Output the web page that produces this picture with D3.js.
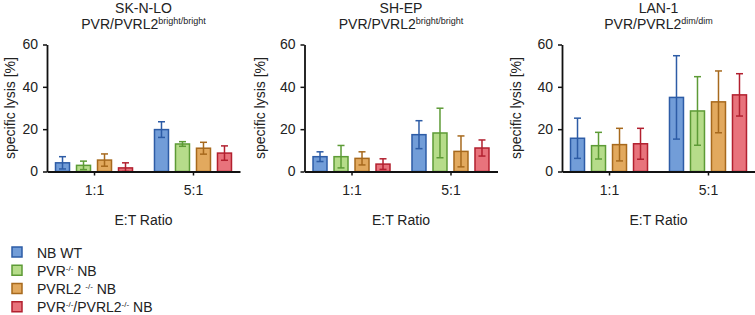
<!DOCTYPE html>
<html>
<head>
<meta charset="utf-8">
<script src="https://cdn.jsdelivr.net/npm/d3@7"></script>
<style>
  body { margin: 0; background: #fff; }
  svg text { font-family: "Liberation Sans", Arial, sans-serif; fill: #222; }
</style>
</head>
<body>
<div id="chart"></div>
<script>
// categories
const ratios = ["1:1", "5:1"];
const series = ["wt", "pvr", "pvrl2", "dko"];
const yTicks = [0, 20, 40, 60];

// panel titles
const cellLines = ["SK-N-LO", "SH-EP", "LAN-1"];
const phenotypes = ["bright/bright", "bright/bright", "dim/dim"];

// mean specific lysis [%], per ratio, per series
const meansSKNLO = [[4.1, 2.9, 5.4, 1.7], [19.8, 13.0, 11.0, 8.7]];
const meansSHEP  = [[7.0, 7.0, 6.2, 3.5], [17.4, 18.2, 9.5, 11.1]];
const meansLAN1  = [[15.7, 12.2, 12.7, 13.1], [35.0, 28.6, 32.9, 36.2]];

// SD
const sdSKNLO = [[2.9, 2.0, 2.9, 2.4], [3.7, 1.1, 2.8, 3.4]];
const sdSHEP  = [[2.3, 5.3, 3.1, 2.5], [6.6, 11.7, 7.3, 3.8]];
const sdLAN1  = [[9.5, 6.3, 7.7, 7.3], [19.7, 16.2, 14.6, 10.0]];

const allMeans = [meansSKNLO, meansSHEP, meansLAN1];
const allSd = [sdSKNLO, sdSHEP, sdLAN1];

const fills   = ["#729dd8", "#b6dc8a", "#e2a95e", "#e8737c"];
const strokes = ["#2d5ca6", "#5d9b36", "#a7691d", "#b2202f"];

const width = 755, height = 315;
const svg = d3.select("#chart").append("svg")
    .attr("width", width)
    .attr("height", height);

const axisLen = 193;
const panelLeft = i => 47 + i * 257.5;
const yLabelGap = [37, 45, 46];

const y = d3.scaleLinear().domain([0, 60]).range([171.5, 44.5]);
const x = d3.scalePoint().domain(ratios).range([0, axisLen]).padding(0.475);
const xs = d3.scaleBand().domain(series).range([-38.5, 38.5]).paddingInner(1 / 3);
const capW = 7;

cellLines.forEach((name, i) => {
    const g = svg.append("g").attr("transform", `translate(${panelLeft(i)},0)`);
    const means = allMeans[i], sds = allSd[i];

    // title
    g.append("text")
        .attr("x", axisLen / 2).attr("y", 13)
        .attr("text-anchor", "middle")
        .style("font-size", "14px")
        .text(name);
    const t2 = g.append("text")
        .attr("x", axisLen / 2).attr("y", 29)
        .attr("text-anchor", "middle")
        .style("font-size", "14px");
    t2.append("tspan").text("PVR/PVRL2");
    t2.append("tspan").attr("dy", -5).style("font-size", "9px").text(phenotypes[i]);

    // bars
    ratios.forEach((r, ri) => {
        const grp = g.append("g").attr("transform", `translate(${x(r)},0)`);
        series.forEach((s, si) => {
            const m = means[ri][si], sd = sds[ri][si];
            const cx = xs(s) + xs.bandwidth() / 2;
            grp.append("rect")
                .attr("x", xs(s))
                .attr("y", y(m))
                .attr("width", xs.bandwidth())
                .attr("height", y(0) - y(m))
                .attr("fill", fills[si])
                .attr("stroke", strokes[si])
                .attr("stroke-width", 1.5);
            const lo = Math.max(0, m - sd), hi = m + sd;
            grp.append("line")
                .attr("x1", cx).attr("x2", cx)
                .attr("y1", y(lo)).attr("y2", y(hi))
                .attr("stroke", strokes[si]).attr("stroke-width", 1.5);
            [lo, hi].forEach(v => {
                grp.append("line")
                    .attr("x1", cx - capW / 2).attr("x2", cx + capW / 2)
                    .attr("y1", y(v)).attr("y2", y(v))
                    .attr("stroke", strokes[si]).attr("stroke-width", 1.5);
            });
        });
    });

    // axes
    const ya = g.append("g")
        .call(d3.axisLeft(y).tickValues(yTicks).tickSize(4).tickSizeOuter(0).tickPadding(5));
    const xa = g.append("g")
        .attr("transform", `translate(0,${y(0)})`)
        .call(d3.axisBottom(x).tickSize(4).tickSizeOuter(0).tickPadding(10));
    [ya, xa].forEach(a => {
        a.select(".domain").attr("stroke", "#111").attr("stroke-width", 1.8);
        a.selectAll(".tick line").attr("stroke", "#111").attr("stroke-width", 1.5);
        a.selectAll(".tick text")
            .style("font-size", "14px")
            .style("font-family", "'Liberation Sans', Arial, sans-serif")
            .attr("fill", "#222");
    });

    g.append("text")
        .attr("transform", `translate(${-yLabelGap[i] + 5},${(y(0) + y(60)) / 2}) rotate(-90)`)
        .attr("text-anchor", "middle")
        .style("font-size", "14px")
        .text("specific lysis [%]");

    g.append("text")
        .attr("x", axisLen / 2).attr("y", 225)
        .attr("text-anchor", "middle")
        .style("font-size", "14px")
        .text("E:T Ratio");
});

// legend
const legendLabels = [
    [["NB WT", 0]],
    [["PVR", 0], ["-/-", 1], [" NB", 0]],
    [["PVRL2 ", 0], ["-/-", 1], [" NB", 0]],
    [["PVR", 0], ["-/-", 1], ["/PVRL2", 0], ["-/-", 1], [" NB", 0]]
];
const ly = d3.scaleBand().domain(series).range([247, 320]).paddingInner(0);
const legend = svg.append("g");
series.forEach((s, si) => {
    const row = legend.append("g").attr("transform", `translate(12,${ly(s)})`);
    row.append("rect")
        .attr("width", 10).attr("height", 10)
        .attr("fill", fills[si]).attr("stroke", strokes[si]).attr("stroke-width", 1.5);
    const t = row.append("text").attr("x", 25).attr("y", 10.5).style("font-size", "14px");
    let sup = false;
    legendLabels[si].forEach(([txt, isSup]) => {
        const ts = t.append("tspan").text(txt);
        if (isSup && !sup) { ts.attr("dy", -5).style("font-size", "8px"); sup = true; }
        else if (!isSup && sup) { ts.attr("dy", 5); sup = false; }
        else if (isSup) ts.style("font-size", "8px");
    });
});
</script>
</body>
</html>
